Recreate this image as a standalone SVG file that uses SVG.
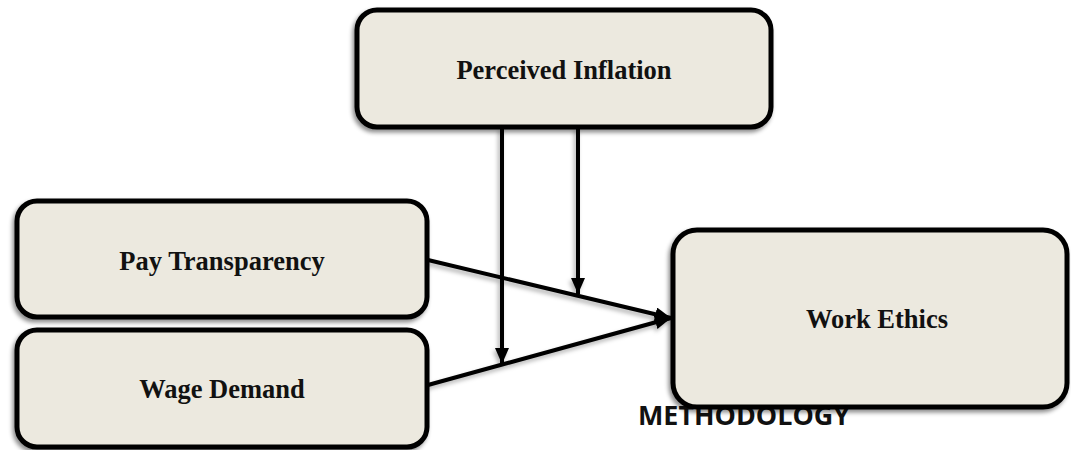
<svg xmlns="http://www.w3.org/2000/svg" width="1071" height="450" viewBox="0 0 1071 450">
  <defs>
    <filter id="shadow" x="-10%" y="-10%" width="120%" height="130%">
      <feDropShadow dx="-2" dy="3" stdDeviation="2" flood-color="#000" flood-opacity="0.45"/>
    </filter>
    <filter id="lshadow" x="-20%" y="-20%" width="140%" height="140%">
      <feDropShadow dx="-2" dy="3" stdDeviation="2" flood-color="#000" flood-opacity="0.3"/>
    </filter>
    <marker id="arrow" markerUnits="userSpaceOnUse" markerWidth="18" markerHeight="16" refX="16" refY="7" orient="auto">
      <path d="M0,0 L16,7 L0,14 z" fill="#000"/>
    </marker>
    <style>
      .box { fill: #ECE9DF; stroke: #000; stroke-width: 5; filter: url(#shadow); }
      .label { font-family: "Liberation Serif", "Times New Roman", serif; font-weight: bold; font-size: 26.5px; fill: #111; text-anchor: middle; }
      .conn { stroke: #000; stroke-width: 4; fill: none; marker-end: url(#arrow); }
      .title { font-family: "Open Sans", "Liberation Sans", sans-serif; font-weight: bold; font-size: 27px; fill: #111; }
    </style>
  </defs>
  <rect width="1071" height="450" fill="#fff"/>

  <g id="connectors" filter="url(#lshadow)">
    <line class="conn" x1="502" y1="127" x2="502" y2="364"/>
    <line class="conn" x1="578" y1="127" x2="578" y2="294"/>
    <line class="conn" x1="428" y1="260" x2="671" y2="318"/>
    <line class="conn" x1="428" y1="385" x2="671" y2="318"/>
  </g>

  <g id="node-perceived-inflation">
    <rect class="box" x="357" y="10" width="414" height="117" rx="20"/>
    <text class="label" x="564" y="79">Perceived Inflation</text>
  </g>

  <g id="node-pay-transparency">
    <rect class="box" x="17" y="201" width="410" height="116" rx="20"/>
    <text class="label" x="222" y="270">Pay Transparency</text>
  </g>

  <g id="node-wage-demand">
    <rect class="box" x="17" y="330" width="410" height="117" rx="20"/>
    <text class="label" x="222" y="398">Wage Demand</text>
  </g>

  <text class="title" x="638" y="425" textLength="212" lengthAdjust="spacingAndGlyphs">METHODOLOGY</text>

  <g id="node-work-ethics">
    <rect class="box" x="673" y="230" width="394" height="177" rx="24"/>
    <text class="label" x="877" y="328">Work Ethics</text>
  </g>
</svg>
